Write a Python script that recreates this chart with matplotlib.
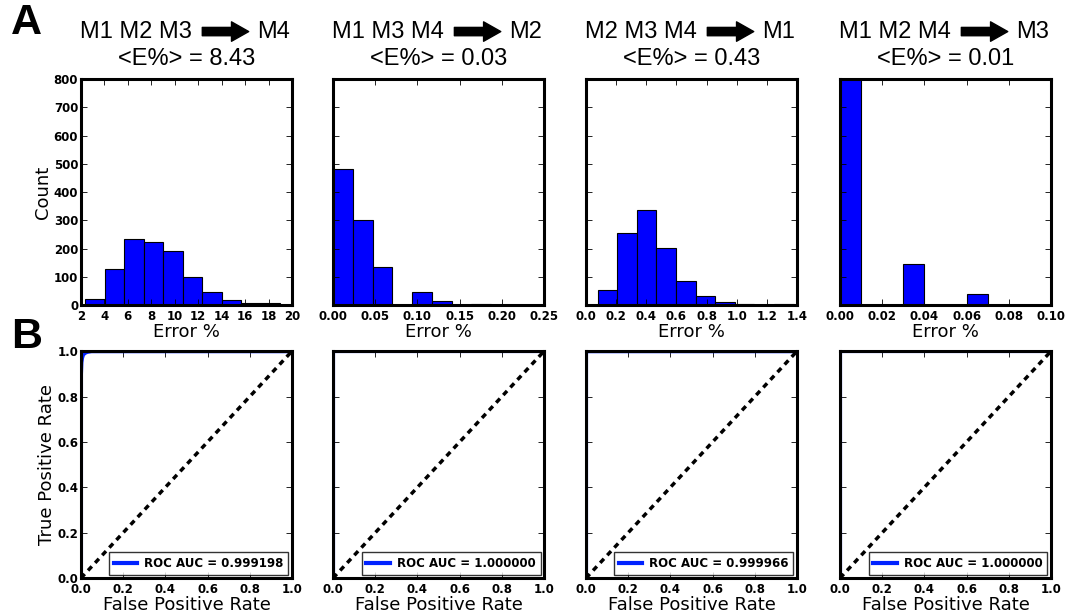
#Cross-model error histograms (A) and ROC curves (B)
import numpy as np
import matplotlib.pyplot as plt

plt.rcParams['font.family'] = ['DejaVu Sans']

#panel titles
inputs = ['M1 M2 M3', 'M1 M3 M4', 'M2 M3 M4', 'M1 M2 M4']
targets = ['M4', 'M2', 'M1', 'M3']
mean_err = ['8.43', '0.03', '0.43', '0.01']

#histograms: first bin edge, bin width, counts (10 bins)
bin_start = [2.36, 0.0, 0.077, 0.0]
bin_width = [1.663, 0.0234, 0.130, 0.010]
counts_1 = [22, 128, 232, 224, 193, 101, 47, 17, 8, 8]
counts_2 = [482, 300, 134, 0, 47, 14, 1, 4, 0, 1]
counts_3 = [52, 255, 335, 203, 85, 32, 12, 4, 1, 3]
counts_4 = [815, 0, 0, 147, 0, 0, 38, 0, 0, 0]
counts = [counts_1, counts_2, counts_3, counts_4]
x_max = [20, 0.25, 1.4, 0.1]
x_ticks = [[2, 4, 6, 8, 10, 12, 14, 16, 18, 20],
           [0.0, 0.05, 0.10, 0.15, 0.20, 0.25],
           [0.0, 0.2, 0.4, 0.6, 0.8, 1.0, 1.2, 1.4],
           [0.0, 0.02, 0.04, 0.06, 0.08, 0.10]]
x_labels = [['2', '4', '6', '8', '10', '12', '14', '16', '18', '20'],
            ['0.00', '0.05', '0.10', '0.15', '0.20', '0.25'],
            ['0.0', '0.2', '0.4', '0.6', '0.8', '1.0', '1.2', '1.4'],
            ['0.00', '0.02', '0.04', '0.06', '0.08', '0.10']]
x_min = [2, 0, 0, 0]

#ROC curves
fpr_1 = [0.0, 0.0, 0.002, 0.005, 0.01, 0.02, 0.03, 0.05, 1.0]
tpr_1 = [0.0, 0.90, 0.95, 0.97, 0.985, 0.993, 0.997, 1.0, 1.0]
fpr_2 = [0.0, 0.0, 1.0]
tpr_2 = [0.0, 1.0, 1.0]
fpr_3 = [0.0, 0.0, 0.001, 1.0]
tpr_3 = [0.0, 0.998, 1.0, 1.0]
fpr_4 = [0.0, 0.0, 1.0]
tpr_4 = [0.0, 1.0, 1.0]
fprs = [fpr_1, fpr_2, fpr_3, fpr_4]
tprs = [tpr_1, tpr_2, tpr_3, tpr_4]
aucs = ['0.999198', '1.000000', '0.999966', '1.000000']

fig = plt.figure(figsize=(10.75, 6.15), dpi=100)
lefts = [0.0753, 0.3098, 0.5451, 0.7814]
w = 0.1963


def style(ax):
    for s in ax.spines.values():
        s.set_linewidth(2.2)
    ax.tick_params(direction='in', top=True, right=True, length=4, width=0.6,
                   labelsize=8.5, pad=2)
    ax.tick_params(axis='x', pad=3.5)
    for lab in ax.get_xticklabels() + ax.get_yticklabels():
        lab.set_fontweight('bold')


for i in range(4):
    #row A
    ax = fig.add_axes([lefts[i], 0.504, w, 0.3675])
    edges = bin_start[i] + bin_width[i] * np.arange(11)
    ax.hist(edges[:-1], bins=edges, weights=counts[i], color='b',
            edgecolor='k', linewidth=0.8)
    ax.set_xlim(x_min[i], x_max[i])
    ax.set_ylim(0, 800)
    ax.set_xticks(x_ticks[i])
    ax.set_xticklabels(x_labels[i])
    ax.set_yticks(range(0, 801, 100))
    if i == 0:
        ax.set_ylabel('Count', fontsize=13, labelpad=1)
    else:
        ax.set_yticklabels([])
    ax.set_xlabel('Error %', fontsize=13, labelpad=0)
    style(ax)
    #title with block arrow
    tkw = dict(transform=ax.transAxes, fontsize=17, va='center',
               family=['Liberation Sans', 'DejaVu Sans'])
    ax.text(0.526, 1.21, inputs[i], ha='right', **tkw)
    ax.text(0.834, 1.21, targets[i], ha='left', **tkw)
    ax.annotate('', xy=(0.795, 1.21), xytext=(0.575, 1.21),
                xycoords='axes fraction', annotation_clip=False,
                arrowprops=dict(arrowstyle='simple,head_length=0.62,head_width=0.7,tail_width=0.3',
                                color='k', shrinkA=0, shrinkB=0, mutation_scale=20))
    ax.text(0.5, 1.09, '<E%> = ' + mean_err[i], ha='center', **tkw)

    #row B
    ax2 = fig.add_axes([lefts[i], 0.060, w, 0.369])
    ax2.plot(fprs[i], tprs[i], color='#0022ff', lw=3,
             label='ROC AUC = ' + aucs[i])
    ax2.plot([0, 1], [0, 1], color='k', linestyle=(0, (1.6, 1.4)), lw=2.5)
    ax2.set_xlim(0, 1)
    ax2.set_ylim(0, 1)
    ax2.set_xticks([0, 0.2, 0.4, 0.6, 0.8, 1.0])
    ax2.set_yticks([0, 0.2, 0.4, 0.6, 0.8, 1.0])
    if i == 0:
        ax2.set_ylabel('True Positive Rate', fontsize=13, labelpad=1)
    else:
        ax2.set_yticklabels([])
    ax2.set_xlabel('False Positive Rate', fontsize=13, labelpad=0)
    style(ax2)
    leg = ax2.legend(loc='lower right', prop=dict(weight='bold', size=8.5),
                     fancybox=False, handlelength=2.0, borderpad=0.4,
                     borderaxespad=0.3, handletextpad=0.6)
    leg.get_frame().set_edgecolor('k')
    leg.get_frame().set_linewidth(1.0)

fig.text(0.010, 0.963, 'A', fontsize=31, fontweight='bold', va='center',
         family=['Liberation Sans', 'DejaVu Sans'])
fig.text(0.010, 0.452, 'B', fontsize=31, fontweight='bold', va='center',
         family=['Liberation Sans', 'DejaVu Sans'])

plt.savefig('out.png', dpi=100)
plt.close('all')
